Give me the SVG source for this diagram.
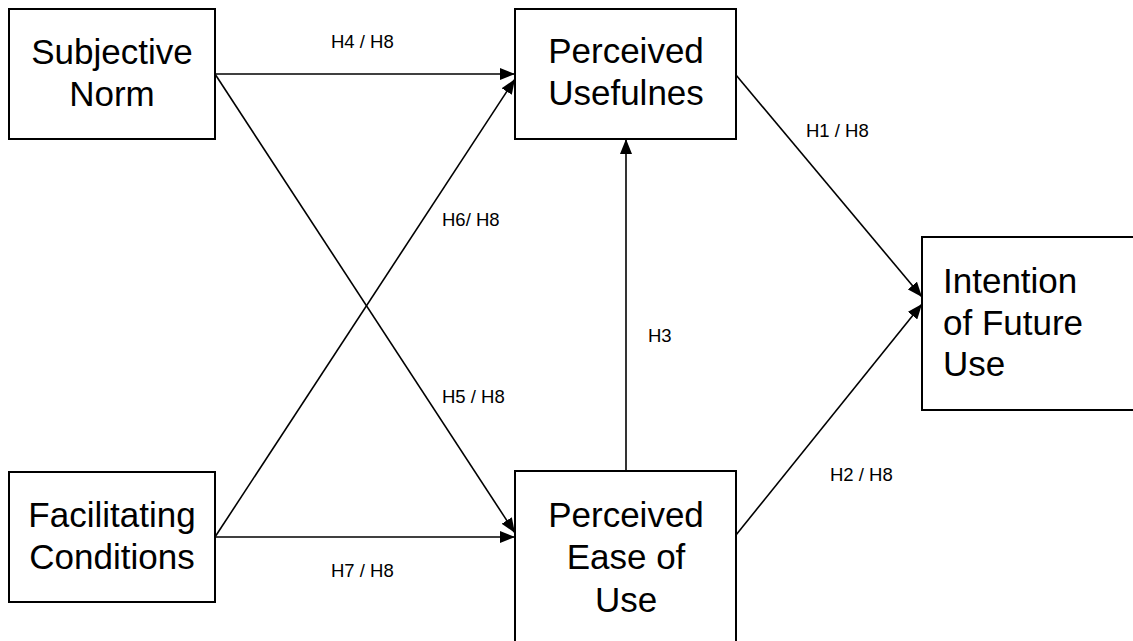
<svg xmlns="http://www.w3.org/2000/svg" width="1133" height="641" viewBox="0 0 1133 641">
<style>
.box{fill:#fff;stroke:#000;stroke-width:2}
.node{font-family:"Liberation Sans",Arial,sans-serif;font-size:35px;fill:#000}
.lbl{font-family:"Liberation Sans",Arial,sans-serif;font-size:18.5px;fill:#000}
.edge{stroke:#000;stroke-width:1.6;fill:none;marker-end:url(#ah)}
</style>
<defs>
<marker id="ah" markerUnits="userSpaceOnUse" markerWidth="16" markerHeight="12" refX="15" refY="6" orient="auto">
<path d="M0,0 L15,6 L0,12 Z" fill="#000"/>
</marker>
</defs>
<rect width="1133" height="641" fill="#fff"/>
<g id="connectors">
<line class="edge" x1="215" y1="74" x2="515" y2="74"/>
<line class="edge" x1="215" y1="74" x2="515" y2="533"/>
<line class="edge" x1="215" y1="537" x2="515" y2="79"/>
<line class="edge" x1="215" y1="537" x2="515" y2="537"/>
<line class="edge" x1="626" y1="471" x2="626" y2="139"/>
<line class="edge" x1="736" y1="75" x2="922" y2="297"/>
<line class="edge" x1="736" y1="535" x2="922" y2="304"/>
<text class="lbl" x="331" y="48">H4 / H8</text>
<text class="lbl" x="806" y="137">H1 / H8</text>
<text class="lbl" x="442" y="226">H6/ H8</text>
<text class="lbl" x="648" y="342">H3</text>
<text class="lbl" x="442" y="403">H5 / H8</text>
<text class="lbl" x="830" y="481">H2 / H8</text>
<text class="lbl" x="331" y="577">H7 / H8</text>
</g>
<g id="subjective-norm">
<rect class="box" x="9" y="9" width="206" height="130"/>
<text class="node" text-anchor="middle" x="112" y="64">Subjective</text>
<text class="node" text-anchor="middle" x="112" y="106">Norm</text>
</g>
<g id="perceived-usefulness">
<rect class="box" x="515" y="9" width="221" height="130"/>
<text class="node" text-anchor="middle" x="626" y="63">Perceived</text>
<text class="node" text-anchor="middle" x="626" y="105">Usefulnes</text>
</g>
<g id="facilitating-conditions">
<rect class="box" x="9" y="472" width="206" height="130"/>
<text class="node" text-anchor="middle" x="112" y="527">Facilitating</text>
<text class="node" text-anchor="middle" x="112" y="569">Conditions</text>
</g>
<g id="perceived-ease-of-use">
<rect class="box" x="515" y="471" width="221" height="180"/>
<text class="node" text-anchor="middle" x="626" y="527">Perceived</text>
<text class="node" text-anchor="middle" x="626" y="569">Ease of</text>
<text class="node" text-anchor="middle" x="626" y="612">Use</text>
</g>
<g id="intention-of-future-use">
<rect class="box" x="922" y="237" width="220" height="173"/>
<text class="node" x="943" y="293">Intention</text>
<text class="node" x="943" y="335">of Future</text>
<text class="node" x="943" y="376">Use</text>
</g>
</svg>
